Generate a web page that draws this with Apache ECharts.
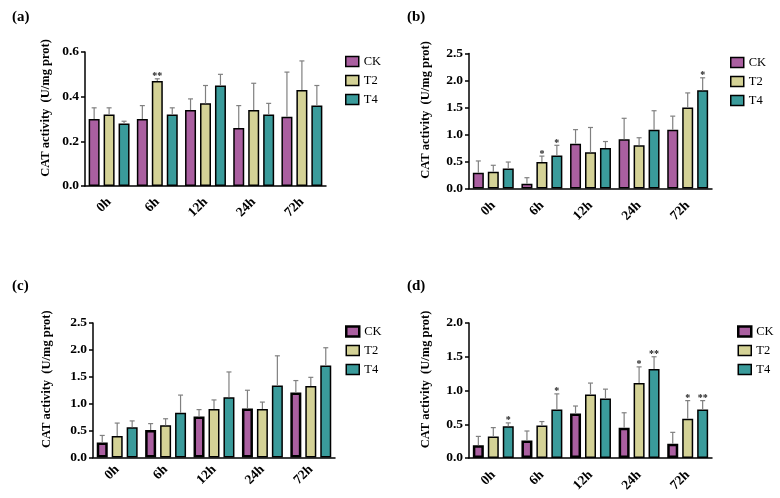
<!DOCTYPE html>
<html>
<head>
<meta charset="utf-8">
<script src="https://cdn.jsdelivr.net/npm/echarts@6/dist/echarts.min.js"></script>
<style>html,body{margin:0;padding:0;background:#fff}#c{width:780px;height:498px}</style>
</head>
<body>
<div id="c"></div>
<script>
const categories = ['0h', '6h', '12h', '24h', '72h'];
const groups = ['CK', 'T2', 'T4'];

// Panel (a)
const aCK = [0.30, 0.30, 0.34, 0.26, 0.31];
const aT2 = [0.32, 0.47, 0.37, 0.34, 0.43];
const aT4 = [0.28, 0.32, 0.45, 0.32, 0.36];
const aCKsd = [0.05, 0.06, 0.05, 0.10, 0.20];
const aT2sd = [0.03, 0.01, 0.08, 0.12, 0.13];
const aT4sd = [0.01, 0.03, 0.05, 0.05, 0.09];
const aCKsig = ['', '', '', '', ''];
const aT2sig = ['', '**', '', '', ''];
const aT4sig = ['', '', '', '', ''];

// Panel (b)
const bCK = [0.29, 0.09, 0.83, 0.91, 1.09];
const bT2 = [0.31, 0.49, 0.67, 0.80, 1.50];
const bT4 = [0.37, 0.61, 0.75, 1.09, 1.82];
const bCKsd = [0.22, 0.11, 0.26, 0.39, 0.25];
const bT2sd = [0.12, 0.11, 0.46, 0.14, 0.27];
const bT4sd = [0.12, 0.19, 0.12, 0.35, 0.23];
const bCKsig = ['', '', '', '', ''];
const bT2sig = ['', '*', '', '', ''];
const bT4sig = ['', '*', '', '', '*'];

// Panel (c)
const cCK = [0.28, 0.51, 0.76, 0.91, 1.21];
const cT2 = [0.40, 0.60, 0.90, 0.90, 1.33];
const cT4 = [0.56, 0.83, 1.12, 1.34, 1.71];
const cCKsd = [0.13, 0.12, 0.13, 0.34, 0.22];
const cT2sd = [0.24, 0.12, 0.17, 0.13, 0.16];
const cT4sd = [0.12, 0.33, 0.47, 0.55, 0.33];
const cCKsig = ['', '', '', '', ''];
const cT2sig = ['', '', '', '', ''];
const cT4sig = ['', '', '', '', ''];

// Panel (d)
const dCK = [0.19, 0.26, 0.66, 0.45, 0.21];
const dT2 = [0.32, 0.48, 0.94, 1.11, 0.58];
const dT4 = [0.47, 0.72, 0.88, 1.32, 0.72];
const dCKsd = [0.13, 0.14, 0.11, 0.22, 0.17];
const dT2sd = [0.13, 0.06, 0.17, 0.24, 0.27];
const dT4sd = [0.05, 0.23, 0.14, 0.18, 0.13];
const dCKsig = ['', '', '', '', ''];
const dT2sig = ['', '', '', '*', '*'];
const dT4sig = ['*', '*', '', '**', '**'];

const panelLabels = ['(a)', '(b)', '(c)', '(d)'];
const yMax = [0.6, 2.5, 2.5, 2.0];
const yInterval = [0.2, 0.5, 0.5, 0.5];
const yName = 'CAT activity  (U/mg prot)';

const panels = [
  { means: [aCK, aT2, aT4], sds: [aCKsd, aT2sd, aT4sd], sigs: [aCKsig, aT2sig, aT4sig] },
  { means: [bCK, bT2, bT4], sds: [bCKsd, bT2sd, bT4sd], sigs: [bCKsig, bT2sig, bT4sig] },
  { means: [cCK, cT2, cT4], sds: [cCKsd, cT2sd, cT4sd], sigs: [cCKsig, cT2sig, cT4sig] },
  { means: [dCK, dT2, dT4], sds: [dCKsd, dT2sd, dT4sd], sigs: [dCKsig, dT2sig, dT4sig] }
];

// styling / layout
const FONT = 'Liberation Serif';
const colors = ['#aa5fa0', '#d4d296', '#3a9b9b'];
const grids = [
  { left: 85, top: 52, width: 241, height: 134 },
  { left: 469, top: 53.5, width: 243, height: 135 },
  { left: 93, top: 323, width: 242, height: 134.5 },
  { left: 469, top: 323, width: 243, height: 135 }
];
const nameGaps = [33, 37, 40, 37];
const xLabelMargins = [14, 15, 10, 15];
const titlePos = [[12, 10], [407, 10], [12, 279], [407, 279]];
const legendPos = [[345, 55], [730, 56], [345, 325], [737, 325]];
const ckBorder = [1.5, 1.5, 2.5, 2.5];
const BAR_W = 11, BAR_GAP = 0.36;

const option = {
  animation: false,
  backgroundColor: '#fff',
  title: panelLabels.map((t, i) => ({
    text: t, left: titlePos[i][0], top: titlePos[i][1], padding: 0,
    textStyle: { fontFamily: FONT, fontWeight: 'bold', fontSize: 15, color: '#000' }
  })),
  legend: legendPos.map((p, i) => ({
    orient: 'vertical', left: p[0], top: p[1], padding: 0,
    itemWidth: 13, itemHeight: 10, itemGap: 6, selectedMode: false,
    textStyle: { fontFamily: FONT, fontSize: 12.5, color: '#000' },
    data: groups.map((g, k) => ({
      name: g, icon: 'rect',
      itemStyle: { color: colors[k], borderColor: '#000', borderWidth: k === 0 ? ckBorder[i] : 1.5 }
    }))
  })),
  grid: grids,
  xAxis: grids.map((g, i) => ({
    type: 'category', gridIndex: i, data: categories,
    axisLine: { lineStyle: { color: '#000', width: 1.5 } },
    axisTick: { alignWithLabel: true, length: 4, lineStyle: { color: '#000', width: 1.5 } },
    axisLabel: { rotate: 45, margin: xLabelMargins[i], fontFamily: FONT, fontWeight: 'bold', fontSize: 13.5, color: '#000' }
  })),
  yAxis: grids.map((g, i) => ({
    type: 'value', gridIndex: i, min: 0, max: yMax[i], interval: yInterval[i],
    splitLine: { show: false },
    axisLine: { show: true, lineStyle: { color: '#000', width: 1.5 } },
    axisTick: { show: true, length: 4, lineStyle: { color: '#000', width: 1.5 } },
    axisLabel: { margin: 6, formatter: v => v.toFixed(1), fontFamily: FONT, fontWeight: 'bold', fontSize: 13.5, color: '#000' },
    name: yName, nameLocation: 'middle', nameGap: nameGaps[i],
    nameTextStyle: { fontFamily: FONT, fontWeight: 'bold', fontSize: 12.5, color: '#000', padding: [0, 0, 0, 22] }
  })),
  series: []
};

panels.forEach((p, i) => {
  groups.forEach((g, k) => {
    option.series.push({
      type: 'bar', name: g, xAxisIndex: i, yAxisIndex: i,
      data: p.means[k], barWidth: BAR_W, barGap: (BAR_GAP * 100) + '%',
      itemStyle: { color: colors[k], borderColor: '#000', borderWidth: k === 0 ? ckBorder[i] : 1.5 }
    });
  });
  groups.forEach((g, k) => {
    const sig = p.sigs[k];
    const offset = (k - 1) * BAR_W * (1 + BAR_GAP);
    option.series.push({
      type: 'custom', name: 'err' + i + k, xAxisIndex: i, yAxisIndex: i, z: 5,
      data: p.means[k].map((m, j) => [j, m, p.sds[k][j]]),
      renderItem: function (params, api) {
        const j = api.value(0), m = api.value(1), s = api.value(2);
        const base = api.coord([j, m]);
        const top = api.coord([j, m + s]);
        const x = base[0] + offset;
        const children = [
          { type: 'line', shape: { x1: x, y1: base[1], x2: x, y2: top[1] }, style: { stroke: '#808080', lineWidth: 1.2 } },
          { type: 'line', shape: { x1: x - 2.5, y1: top[1], x2: x + 2.5, y2: top[1] }, style: { stroke: '#808080', lineWidth: 1.2 } }
        ];
        const t = sig[params.dataIndex];
        if (t) {
          children.push({
            type: 'text',
            style: { text: t, x: x, y: top[1] + 3, align: 'center', verticalAlign: 'bottom', font: 'bold 10px "' + FONT + '"', fill: '#222' }
          });
        }
        return { type: 'group', children: children };
      }
    });
  });
});

const chart = echarts.init(document.getElementById('c'));
chart.setOption(option);
</script>
</body>
</html>
